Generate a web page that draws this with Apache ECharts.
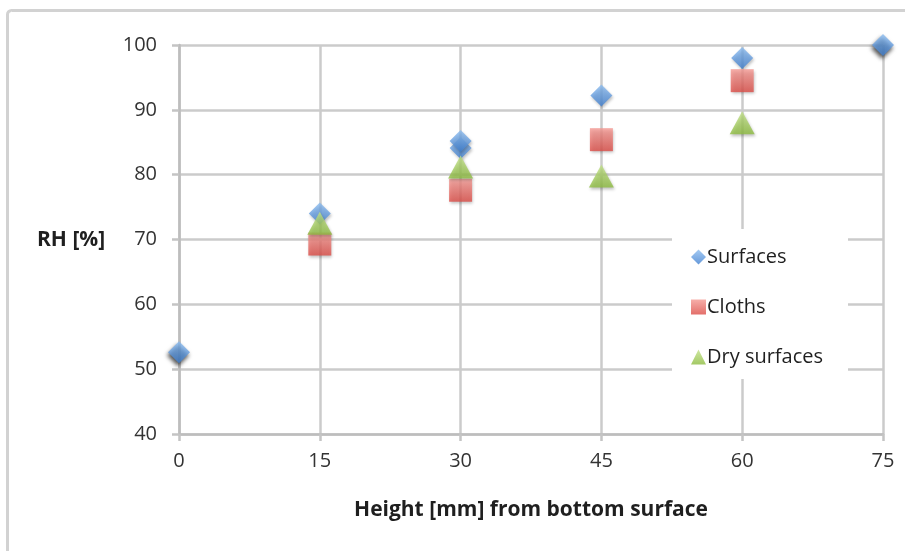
<!DOCTYPE html>
<html><head><meta charset="utf-8">
<script src="https://cdn.jsdelivr.net/npm/echarts@6/dist/echarts.min.js"></script>
<style>html,body{margin:0;padding:0;background:#fff}#c{width:905px;height:551px}</style>
</head><body><div id="c"></div>
<script>
const xTicks = [0, 15, 30, 45, 60, 75];
const yTicks = [40, 50, 60, 70, 80, 90, 100];
const surfacesX = [0, 15, 30, 30, 45, 60, 75];
const surfacesY = [52.6, 74.0, 84.1, 85.2, 92.2, 98.0, 100.0];
const clothsX = [15, 30, 45, 60];
const clothsY = [69.3, 77.6, 85.4, 94.5];
const dryX = [15, 30, 45, 60];
const dryY = [72.5, 81.2, 79.8, 88.0];
const seriesNames = ['Surfaces', 'Cloths', 'Dry surfaces'];
const xTitle = 'Height [mm] from bottom surface';
const yTitle = 'RH [%]';

const font = 'Open Sans, Noto Sans, sans-serif';
function grad(light, dark) {
  return new echarts.graphic.LinearGradient(0, 0, 0, 1, [
    {offset: 0, color: light}, {offset: 1, color: dark}
  ]);
}
const blue = grad('#8dbdf0', '#3f7fd0');
const red = grad('#f49a94', '#dc4b45');
const green = grad('#c3e28a', '#8cbb3e');

function pts(xs, ys) { return xs.map((x, i) => [x, ys[i]]); }
const surfData = pts(surfacesX, surfacesY).map((p, i) => {
  const ends = (i === 0 || i === surfacesX.length - 1);
  return ends ? {value: p, itemStyle: {shadowColor: 'rgba(0,0,0,0.85)', shadowBlur: 4, shadowOffsetX: -1, shadowOffsetY: 3}} : {value: p};
});

const chart = echarts.init(document.getElementById('c'), null, {renderer: 'canvas'});
const shadow = {shadowColor: 'rgba(0,0,0,0.3)', shadowBlur: 3, shadowOffsetX: 1, shadowOffsetY: 2};
chart.setOption({
  animation: false,
  backgroundColor: '#fff',
  graphic: [{
    type: 'rect', left: 6, top: 9, z: -10, silent: true,
    shape: {width: 920, height: 560, r: 4},
    style: {fill: '#fff', stroke: '#d2d2d2', lineWidth: 3}
  }, {
    type: 'text', left: 37, top: 230, z: 10,
    style: {text: yTitle, font: 'bold 21px ' + font, fill: '#1f1f1f'}
  }, {
    type: 'rect', left: 672, top: 229, z: 5, silent: true,
    shape: {width: 176, height: 150}, style: {fill: '#fff'}
  }],
  grid: {left: 179, right: 22, top: 45, bottom: 117, containLabel: false},
  legend: {
    data: seriesNames, orient: 'vertical', left: 691, top: 247,
    itemGap: 30, itemWidth: 15, itemHeight: 15, z: 6, padding: 0,
    textStyle: {fontFamily: font, fontSize: 20, lineHeight: 20, color: '#1f1f1f', padding: [0, 0, 0, -4]}
  },
  xAxis: {
    type: 'value', min: 0, max: 75, interval: 15,
    name: xTitle, nameLocation: 'middle', nameGap: 66,
    nameTextStyle: {fontFamily: font, fontSize: 21, fontWeight: 'bold', color: '#1f1f1f'},
    axisLine: {show: true, onZero: false, lineStyle: {color: '#bdbdbd', width: 2.5}},
    axisTick: {show: true, length: 7, lineStyle: {color: '#c4c4c4', width: 2.5}},
    axisLabel: {fontFamily: font, fontSize: 20, color: '#333', margin: 17},
    splitLine: {show: true, lineStyle: {color: '#cbcbcb', width: 2.5}}
  },
  yAxis: {
    type: 'value', min: 40, max: 100, interval: 10,
    axisLine: {show: true, lineStyle: {color: '#bdbdbd', width: 2.5}},
    axisTick: {show: true, length: 7, lineStyle: {color: '#c4c4c4', width: 2.5}},
    axisLabel: {fontFamily: font, fontSize: 20, color: '#333', margin: 22},
    splitLine: {show: true, lineStyle: {color: '#cbcbcb', width: 2.5}}
  },
  series: [{
    name: seriesNames[0], type: 'scatter', symbol: 'diamond', symbolSize: [22, 22],
    itemStyle: Object.assign({color: blue}, shadow), z: 2,
    data: surfData
  }, {
    name: seriesNames[1], type: 'scatter', symbol: 'rect', symbolSize: 23,
    itemStyle: Object.assign({color: red}, shadow), z: 3,
    data: pts(clothsX, clothsY)
  }, {
    name: seriesNames[2], type: 'scatter', symbol: 'triangle', symbolSize: [25, 23],
    itemStyle: Object.assign({color: green}, shadow), z: 4,
    data: pts(dryX, dryY)
  }]
});
</script></body></html>
